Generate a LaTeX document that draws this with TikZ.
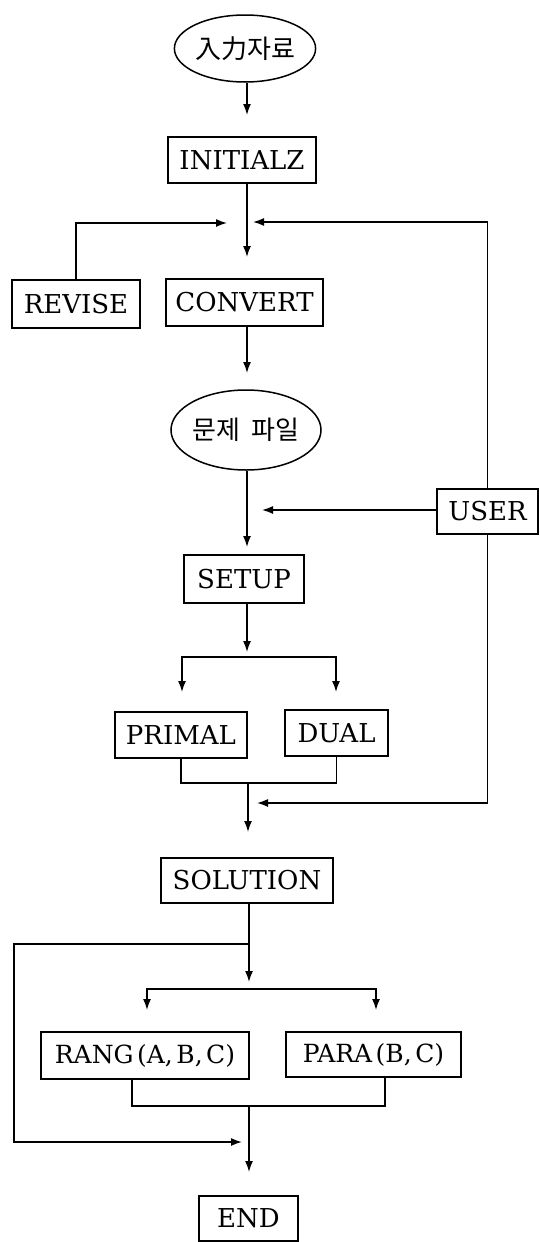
\documentclass[tikz,border=0pt]{standalone}
\usepackage{fontspec}
\setmainfont{DejaVu Serif}
\newfontfamily\krfont{Noto Sans CJK KR}
\usetikzlibrary{shapes.geometric,arrows.meta}
\begin{document}
\begin{tikzpicture}[x=1pt,y=-1pt,
  line width=1.5pt,
  box/.style={draw, rectangle, inner sep=0pt, font=\fontsize{26}{30}\selectfont},
  oval/.style={draw, ellipse, inner sep=0pt, font=\krfont\fontsize{26}{28}\selectfont},
  arr/.style={-{Latex[length=11pt,width=8pt]}}]
\useasboundingbox (0,0) rectangle (539,1242);

% process boxes and files
\node[oval, minimum width=134pt, minimum height=67pt] (input) at (245,48.5) {入力자료};
\node[box, minimum width=148pt, minimum height=46pt] (init) at (242,160) {INITIALZ};
\node[box, minimum width=128pt, minimum height=48pt] (revise) at (76,304) {REVISE};
\node[box, minimum width=157pt, minimum height=47pt] (convert) at (244.5,302.5) {CONVERT};
\node[oval, minimum width=134pt, minimum height=80pt] (file) at (246,430) {문제\hspace{0.4em}파일};
\node[box, minimum width=101pt, minimum height=45pt] (user) at (487.5,511.5) {USER};
\node[box, minimum width=120pt, minimum height=48pt] (setup) at (244,579) {SETUP};
\node[box, minimum width=132pt, minimum height=46pt] (primal) at (181,735) {PRIMAL};
\node[box, minimum width=103pt, minimum height=46pt] (dual) at (336.5,733) {DUAL};
\node[box, minimum width=172pt, minimum height=45pt] (solution) at (247,880.5) {SOLUTION};
\node[box, minimum width=208pt, minimum height=47pt, font=\fontsize{25}{30}\selectfont] (rang) at (145,1055.5) {RANG\kern3.5pt(A,\kern3.5pt B,\kern3.5pt C)};
\node[box, minimum width=175pt, minimum height=45pt, font=\fontsize{25}{30}\selectfont] (para) at (373.5,1054.5) {PARA\kern3.5pt(B,\kern3.5pt C)};
\node[box, minimum width=99pt, minimum height=45pt] (end) at (248.5,1218.5) {END};

% arrow tips and junctions
\coordinate (c1) at (247,115);
\coordinate (c2) at (247,257);
\coordinate (rv) at (227,223);
\coordinate (ru) at (253,222);
\coordinate (c3) at (247,373);
\coordinate (c4) at (247,547);
\coordinate (uw) at (262,510);
\coordinate (c5) at (247,652);
\coordinate (bm) at (247,657);
\coordinate (pl) at (182,692);
\coordinate (pr) at (336,692);
\coordinate (jm) at (248,783);
\coordinate (c6) at (248,832);
\coordinate (c7) at (257,803);
\coordinate (c8) at (249,982);
\coordinate (c9) at (249,944);
\coordinate (c10) at (14,1142);
\coordinate (c11) at (242,1142);
\coordinate (bm2) at (249,989);
\coordinate (ql) at (147,1010);
\coordinate (qr) at (376,1010);
\coordinate (rl) at (132,1106);
\coordinate (rr) at (385,1106);
\coordinate (jm2) at (249,1106);
\coordinate (c12) at (249,1172);

% main flow
\draw[arr] (input.south -| c1) -- (c1);
\draw[arr] (init.south -| c2) -- (c2);
\draw[arr] (revise.north) |- (rv);
\draw[arr] (user.north) |- (ru);
\draw[arr] (convert.south -| c3) -- (c3);
\draw[arr] (file.south -| c4) -- (c4);
\draw[arr] (user.west |- uw) -- (uw);
\draw[arr] (setup.south -| c5) -- (c5);
\draw[arr] (bm) -| (pl);
\draw[arr] (bm) -| (pr);
\draw (primal.south) |- (jm) -| (dual.south);
\draw[arr] (jm) -- (c6);
\draw[arr] (user.south) |- (c7);
\draw[arr] (solution.south -| c8) -- (c8);
\draw[arr] (c9) -| (c10) -- (c11);
\draw[arr] (bm2) -| (ql);
\draw[arr] (bm2) -| (qr);
\draw (rang.south -| rl) -- (rl) -- (rr) -- (para.south -| rr);
\draw[arr] (jm2) -- (c12);
\end{tikzpicture}
\end{document}
